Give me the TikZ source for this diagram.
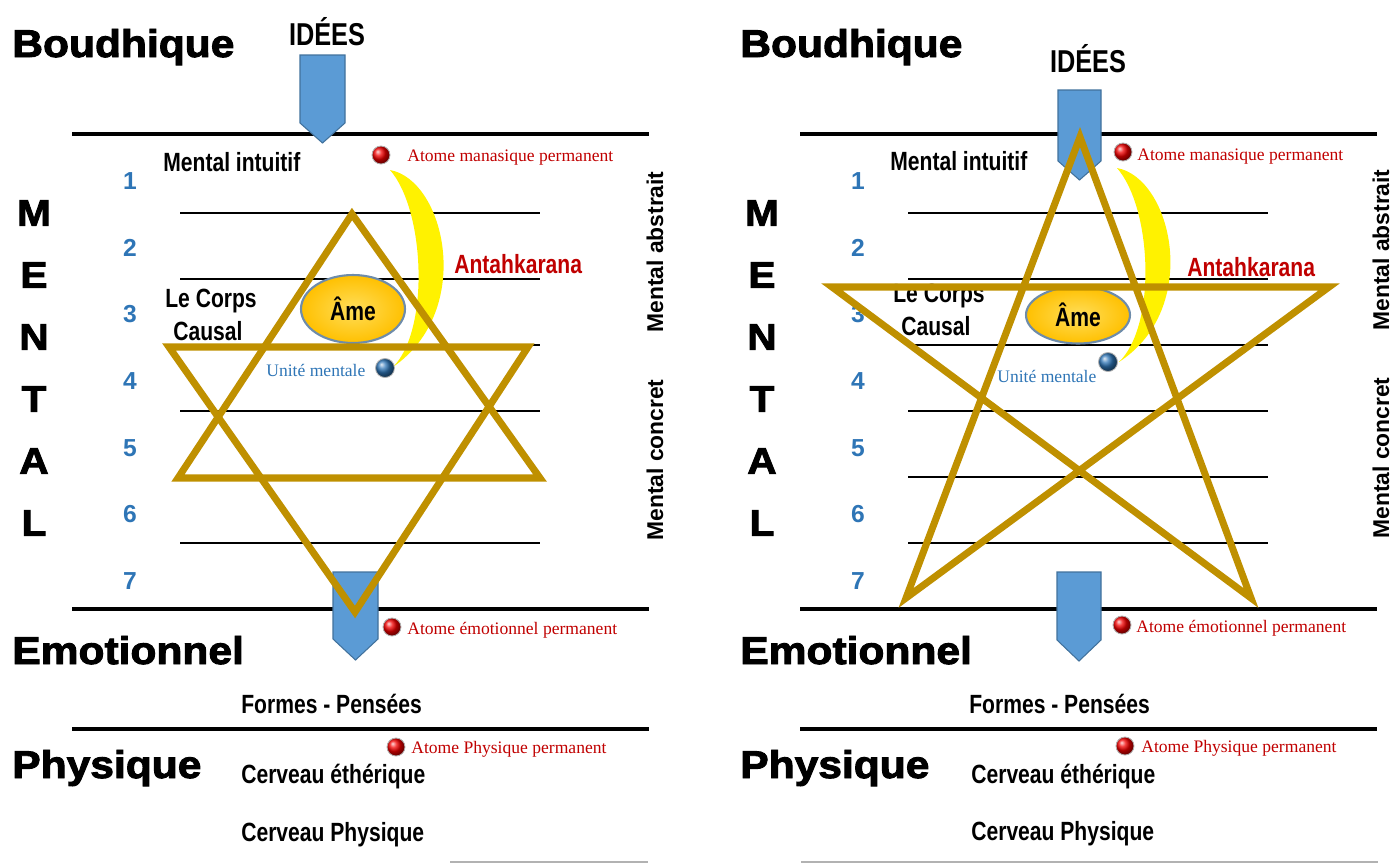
\documentclass[tikz,border=0pt]{standalone}
\usepackage{fontspec}
\setmainfont{Liberation Serif}
\newfontfamily\heavyfont[FakeBold=2.5,FakeStretch=1.1]{Liberation Sans}
\newfontfamily\narrowfont[FakeStretch=0.8]{Liberation Sans}
\newfontfamily\plainsans{Liberation Sans}
\usetikzlibrary{shapes.geometric}

\definecolor{gold}{RGB}{191,144,0}
\definecolor{arrowblue}{RGB}{91,155,213}
\definecolor{arrowedge}{RGB}{65,113,156}
\definecolor{numblue}{RGB}{46,117,182}
\definecolor{atomred}{RGB}{192,0,0}
\definecolor{amegold}{RGB}{255,192,0}

\tikzset{
  plane/.style={anchor=base west, inner sep=0pt, font=\heavyfont\bfseries\fontsize{22}{22}\selectfont},
  letter/.style={font=\heavyfont\bfseries\fontsize{21}{21}\selectfont},
  level/.style={anchor=base west, inner sep=0pt, font=\narrowfont\bfseries\fontsize{15}{16}\selectfont},
  num/.style={text=numblue, font=\plainsans\bfseries\fontsize{14}{14}\selectfont},
  atom/.style={anchor=base west, inner sep=0pt, text=atomred, font=\fontsize{10}{10}\selectfont},
  unit/.style={anchor=base west, inner sep=0pt, text=numblue, font=\fontsize{10}{10}\selectfont},
  side/.style={rotate=90, font=\plainsans\bfseries\fontsize{13}{13}\selectfont},
  karana/.style={anchor=base west, inner sep=0pt, text=atomred, font=\narrowfont\bfseries\fontsize{15}{16}\selectfont},
  planeline/.style={line width=2.3pt},
  rowline/.style={line width=0.6pt},
  idea/.style={fill=arrowblue, draw=arrowedge, line width=0.6pt},
  starline/.style={draw=gold, line width=4pt, line join=miter},
  reddot/.style={circle, inner sep=0pt, minimum size=0.36cm, ball color=red!95!black, draw=gray!60, line width=0.5pt},
  bluedot/.style={circle, inner sep=0pt, minimum size=0.38cm, ball color=numblue, draw=gray!60, line width=0.5pt},
  ame/.style={ellipse, minimum width=2.08cm, inner color={rgb,255:red,255;green,222;blue,90}, outer color=amegold, draw={rgb,255:red,110;green,140;blue,170}, line width=1.2pt, font=\narrowfont\bfseries\fontsize{15}{16}\selectfont}
}

\begin{document}
\begin{tikzpicture}[x=0.02cm, y=-0.02cm]
\useasboundingbox (0,0) rectangle (1394,863);

% planes, rows and labels common to both panels
\foreach \p/\dx in {L/0,R/728}{
  \draw[planeline] ({72+\dx},134) -- ({649+\dx},134)
                   ({72+\dx},609) -- ({649+\dx},609)
                   ({72+\dx},729) -- ({649+\dx},729);
  \foreach \k in {0,...,5}
    \draw[rowline] ({180+\dx},{213+66*\k}) -- ({540+\dx},{213+66*\k});
  \foreach \i in {1,...,7}
    \node[num] (num\p\i) at ({130+\dx},{181+66.67*(\i-1)}) {\i};
  \foreach \c [count=\k] in {M,E,N,T,A,L}
    \node[letter] (let\p\k) at ({34+\dx},{213+62*(\k-1)}) {\c};
  \node[plane] (boud\p) at ({12+\dx},57)  {Boudhique};
  \node[plane] (emot\p) at ({12+\dx},664) {Emotionnel};
  \node[plane] (phys\p) at ({12+\dx},778) {Physique};
}
\draw[gray!60, line width=0.6pt] (450,862) -- (648,862) (801,862) -- (1378,862);

% left panel
\node[level, font=\narrowfont\bfseries\fontsize{18}{18}\selectfont, anchor=base] (ideeL) at (327,45) {IDÉES};
\node[level] (intuL) at (163,171) {Mental intuitif};
\node[level] (corpsL) at (165,307) {Le Corps};
\node[level] (causalL) at (173,340) {Causal};
\node[karana] (antaL) at (454,273) {Antahkarana};
\node[level] (formL) at (241,713) {Formes - Pensées};
\node[level] (ethL) at (241,783) {Cerveau éthérique};
\node[level] (cervL) at (241,841) {Cerveau Physique};
\node[side] (abstL) at (655,252) {Mental abstrait};
\node[side] (concL) at (655,460) {Mental concret};
\node[reddot] (dotmL) at (381,155) {};
\node[atom] (manaL) at (407,161) {Atome manasique permanent};
\node[reddot] (doteL) at (392,627) {};
\node[atom] (emoaL) at (407,634) {Atome émotionnel permanent};
\node[reddot] (dotpL) at (396,747) {};
\node[atom] (physaL) at (411,753) {Atome Physique permanent};
\fill[yellow] (390,170) .. controls (445,180) and (475,310) .. (393,367)
              .. controls (430,330) and (425,210) .. (390,170) -- cycle;
\node[bluedot] (dotuL) at (385,368) {};
\node[unit] (uniteL) at (266,376) {Unité mentale};
\filldraw[idea] (300,55) -- (345,55) -- (345,123) -- (322.5,143) -- (300,123) -- cycle;
\filldraw[idea] (333,572) -- (378,572) -- (378,639) -- (355.5,660) -- (333,639) -- cycle;
\node[ame, minimum height=1.36cm] (ameL) at (353,309) {Âme};
\draw[starline] (352,214) -- (540,478) -- (178,478) -- cycle;
\draw[starline] (169,347) -- (528,347) -- (355,612) -- cycle;

% right panel
\node[level, font=\narrowfont\bfseries\fontsize{18}{18}\selectfont, anchor=base] (ideeR) at (1088,72) {IDÉES};
\node[level] (intuR) at (890,170) {Mental intuitif};
\node[level] (corpsR) at (893,302) {Le Corps};
\node[level] (causalR) at (901,335) {Causal};
\node[karana] (antaR) at (1187,276) {Antahkarana};
\node[level] (formR) at (969,713) {Formes - Pensées};
\node[level] (ethR) at (971,783) {Cerveau éthérique};
\node[level] (cervR) at (971,840) {Cerveau Physique};
\node[side] (abstR) at (1381,250) {Mental abstrait};
\node[side] (concR) at (1381,458) {Mental concret};
\node[reddot] (dotmR) at (1123,152) {};
\node[atom] (manaR) at (1137,160) {Atome manasique permanent};
\node[reddot] (doteR) at (1122,625) {};
\node[atom] (emoaR) at (1136,632) {Atome émotionnel permanent};
\node[reddot] (dotpR) at (1125,746) {};
\node[atom] (physaR) at (1141,752) {Atome Physique permanent};
\fill[yellow] (1117,168) .. controls (1172,178) and (1202,308) .. (1119,362)
              .. controls (1157,325) and (1152,208) .. (1117,168) -- cycle;
\node[bluedot] (dotuR) at (1108,362) {};
\node[unit] (uniteR) at (997,382) {Unité mentale};
\filldraw[idea] (1058,90) -- (1101,90) -- (1101,161) -- (1079.5,180) -- (1058,161) -- cycle;
\filldraw[idea] (1057,572) -- (1101,572) -- (1101,640) -- (1079,661) -- (1057,640) -- cycle;
\node[ame, minimum height=1.14cm] (ameR) at (1078,315) {Âme};
\draw[starline] (1080,137) -- (906,598) -- (1329,287) -- (832,287) -- (1251,598) -- cycle;
\end{tikzpicture}
\end{document}
